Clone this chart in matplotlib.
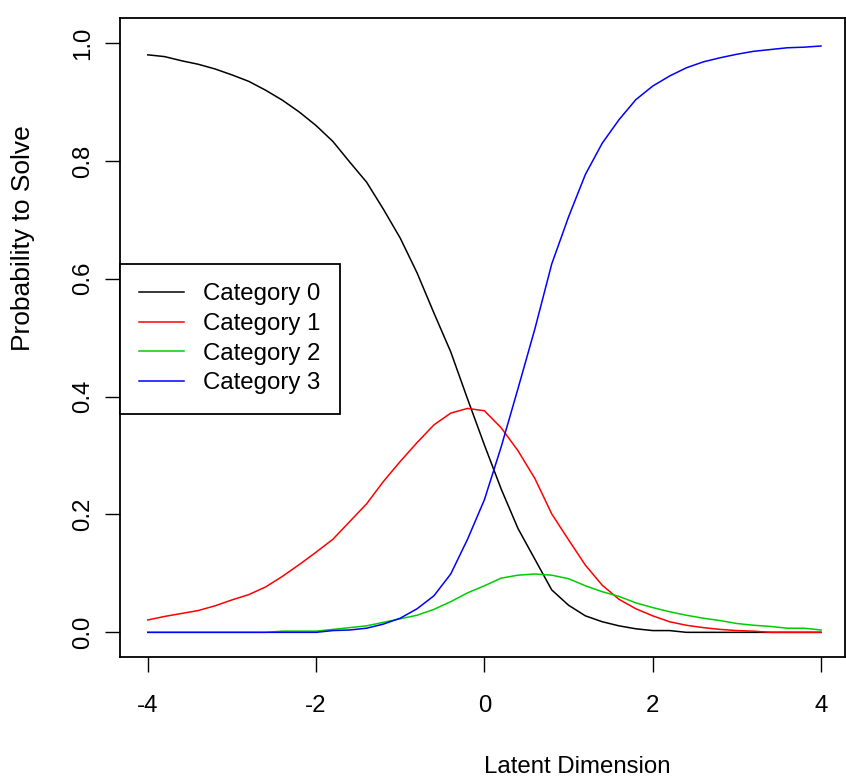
import numpy as np
import matplotlib
matplotlib.use("Agg")
import matplotlib.pyplot as plt

plt.rcParams["font.family"] = ["Liberation Sans", "DejaVu Sans"]

# latent trait grid and category response probabilities
theta = np.linspace(-4, 4, 41)

cat0 = [0.980, 0.977, 0.970, 0.964, 0.956, 0.946, 0.935, 0.920, 0.903, 0.883,
        0.860, 0.833, 0.798, 0.764, 0.718, 0.669, 0.610, 0.542, 0.476, 0.396,
        0.318, 0.243, 0.176, 0.124, 0.072, 0.046, 0.028, 0.018, 0.011, 0.006,
        0.003, 0.003, 0.000, 0.000, 0.000, 0.000, 0.000, 0.000, 0.000, 0.000,
        0.000]
cat1 = [0.021, 0.027, 0.032, 0.037, 0.045, 0.055, 0.064, 0.077, 0.095, 0.115,
        0.136, 0.158, 0.188, 0.218, 0.256, 0.290, 0.322, 0.352, 0.372, 0.380,
        0.376, 0.347, 0.308, 0.261, 0.201, 0.157, 0.114, 0.080, 0.056, 0.040,
        0.028, 0.018, 0.012, 0.008, 0.005, 0.003, 0.002, 0.000, 0.000, 0.000,
        0.000]
cat2 = [0.000, 0.000, 0.000, 0.000, 0.000, 0.000, 0.000, 0.000, 0.002, 0.002,
        0.002, 0.005, 0.008, 0.011, 0.017, 0.023, 0.029, 0.039, 0.052, 0.067,
        0.079, 0.092, 0.097, 0.099, 0.097, 0.091, 0.079, 0.069, 0.061, 0.050,
        0.042, 0.035, 0.029, 0.024, 0.020, 0.015, 0.012, 0.010, 0.007, 0.007,
        0.004]
cat3 = [0.000, 0.000, 0.000, 0.000, 0.000, 0.000, 0.000, 0.000, 0.000, 0.000,
        0.000, 0.003, 0.004, 0.007, 0.014, 0.024, 0.040, 0.062, 0.099, 0.158,
        0.225, 0.315, 0.414, 0.515, 0.625, 0.705, 0.777, 0.830, 0.870, 0.904,
        0.927, 0.944, 0.958, 0.968, 0.975, 0.981, 0.986, 0.989, 0.992, 0.993,
        0.995]

labels = ["Category 0", "Category 1", "Category 2", "Category 3"]
colors = ["#000000", "#FF0000", "#00CD00", "#0000FF"]

W, H = 846, 778
fig = plt.figure(figsize=(W / 100, H / 100), dpi=100)
fig.patch.set_facecolor("white")

# plot region in pixels: left 120, right 845, top 18, bottom 656.5
ax = fig.add_axes([120 / W, 1 - 656.5 / H, (845 - 120) / W, (656.5 - 18.3) / H])

for y, lab, col in zip([cat0, cat1, cat2, cat3], labels, colors):
    ax.plot(theta, y, color=col, lw=1.1, label=lab)

ax.set_xlim(-4.33, 4.285)
ax.set_ylim(-0.041, 1.042)
ax.set_xticks([-4, -2, 0, 2, 4])
ax.set_xticklabels(["-4", "-2", "0", "2", "4"])
ax.set_yticks([0.0, 0.2, 0.4, 0.6, 0.8, 1.0])
ax.set_yticklabels(["0.0", "0.2", "0.4", "0.6", "0.8", "1.0"],
                   rotation=90, va="center")

for s in ax.spines.values():
    s.set_linewidth(1.3)
    s.set_color("black")

ax.tick_params(axis="both", direction="out", length=10.5, width=1.0,
               labelsize=17.3, color="black")
ax.tick_params(axis="x", pad=17)
ax.tick_params(axis="y", pad=8)

fig.text(577.5 / W, 5.3 / H, "Latent Dimension", fontsize=17.3,
         ha="center", va="baseline")
fig.text(23 / W, 1 - 238 / H, "Probability to Solve", fontsize=19,
         rotation=90, ha="center", va="center")

leg = ax.legend(loc="upper left", bbox_to_anchor=(120 / W, 1 - 264 / H),
                bbox_transform=fig.transFigure, borderaxespad=0,
                fontsize=17.3, handlelength=1.875, handletextpad=0.8,
                labelspacing=0.32, borderpad=0.8, fancybox=False,
                framealpha=1, edgecolor="black")
leg.get_frame().set_linewidth(1.3)

fig.savefig("out.png", dpi=100, facecolor="white")
